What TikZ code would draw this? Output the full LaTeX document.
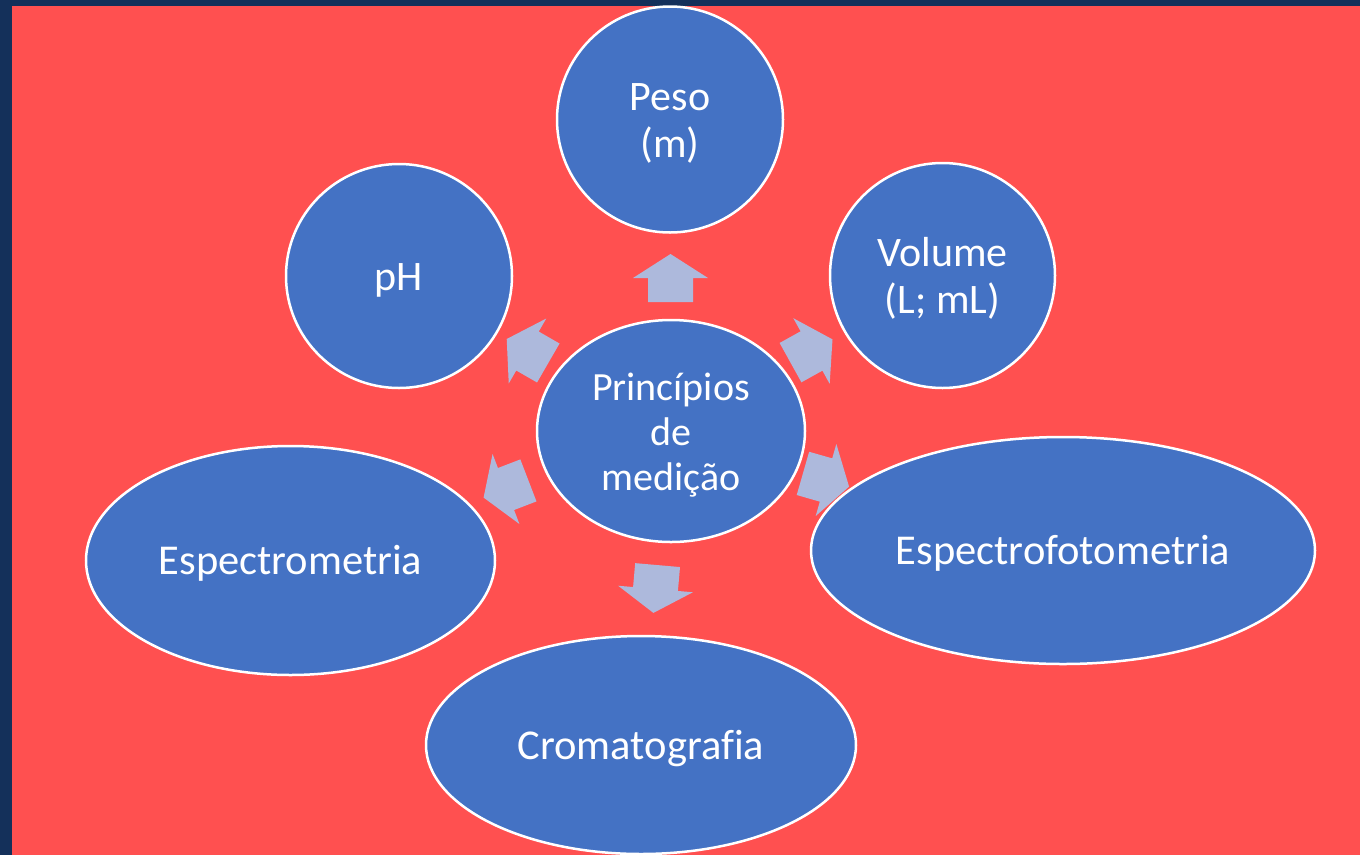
\documentclass[tikz,border=0pt]{standalone}
\usepackage{fontspec}
\setmainfont[Ligatures=NoCommon]{Carlito}
\usetikzlibrary{shapes.geometric}
\definecolor{navy}{RGB}{20,48,90}
\definecolor{slide}{RGB}{255,80,80}
\definecolor{bubble}{RGB}{68,114,196}
\definecolor{arrowfill}{RGB}{173,185,220}
\newcommand{\lbl}[1]{\raisebox{0pt}[\dimexpr\height+10pt\relax][\depth]{\begin{tabular}{@{}c@{}}#1\end{tabular}}}
\begin{document}
\begin{tikzpicture}[x=1pt,y=-1pt,
  bub/.style={ellipse, fill=bubble, draw=white, line width=2.5pt, inner sep=0pt,
    text=white, font=\fontsize{42}{47}\selectfont},
  big/.style={font=\fontsize{42.5}{47}\selectfont},
  pics/blockarrow/.style={code={
    \fill[arrowfill] (-24,-22.5) -- (0,-22.5) -- (0,-37.5) -- (24,0) -- (0,37.5) -- (0,22.5) -- (-24,22.5) -- cycle;}}]
\useasboundingbox (0,0) rectangle (1360,855);
\fill[navy] (0,0) rectangle (1360,855);
\fill[slide] (12,6) rectangle (1360,855);
% nodes
\node[bub, minimum width=268pt, minimum height=222pt, font=\fontsize{40}{45}\selectfont] (c) at (671,431) {\lbl{Princípios\\de\\medição}};
\node[bub, minimum width=226pt, minimum height=226pt] (peso) at (670,119.5) {\lbl{Peso\\(m)}};
\node[bub, minimum width=225pt, minimum height=225pt] (vol) at (942.5,275.5) {\lbl{Volume\\(L; mL)}};
\node[bub, minimum width=226pt, minimum height=224pt] (ph) at (399,276) {\lbl{pH}};
\node[bub, big, minimum width=409pt, minimum height=229pt] (espm) at (290.5,560.5) {\lbl{Espectrometria}};
\node[bub, big, minimum width=504pt, minimum height=227pt] (espf) at (1063,550.5) {\lbl{Espectrofotometria}};
\node[bub, big, minimum width=430pt, minimum height=218pt] (crom) at (641,745) {\lbl{Cromatografia}};
% arrows
\pic[rotate=90] at (670.5,278) {blockarrow};
\pic[rotate=29] at (811.5,351) {blockarrow};
\pic[rotate=-16] at (826,480) {blockarrow};
\pic[rotate=-95] at (655.5,589) {blockarrow};
\pic[rotate=-159] at (506,489) {blockarrow};
\pic[rotate=150] at (527.5,351) {blockarrow};
\end{tikzpicture}
\end{document}
